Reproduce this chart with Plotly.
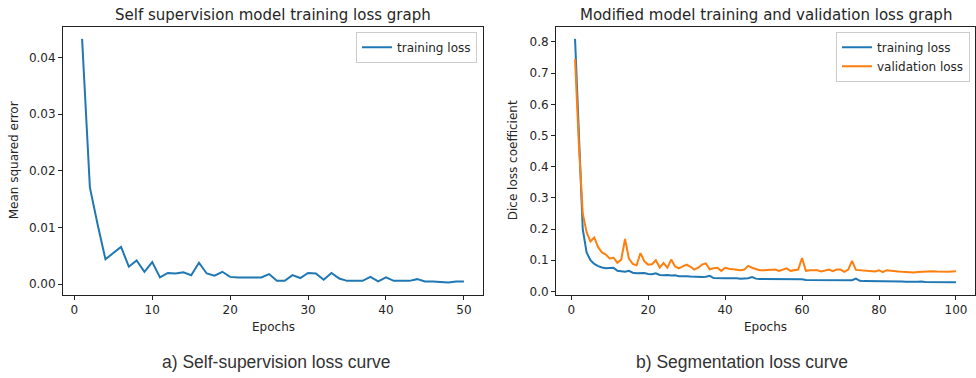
import plotly.graph_objects as go

# ---------------- data ----------------
ss_epochs = list(range(1, 51))
ss_train_loss = [
    0.0433, 0.0171, 0.0105, 0.0044, 0.0055, 0.0066, 0.0031, 0.0042, 0.0022, 0.0039,
    0.0012, 0.0020, 0.0019, 0.0021, 0.0016, 0.0038, 0.0019, 0.0015, 0.0022, 0.0013,
    0.0012, 0.0012, 0.0012, 0.0012, 0.0018, 0.0006, 0.0006, 0.0016, 0.0011, 0.0020,
    0.0019, 0.0008, 0.0020, 0.0010, 0.0006, 0.0006, 0.0006, 0.0013, 0.0005, 0.0012,
    0.0006, 0.0006, 0.0006, 0.0009, 0.0005, 0.0005, 0.0004, 0.0003, 0.0005, 0.0005,
]

seg_epochs = list(range(1, 101))
seg_train_loss = [
    0.810, 0.480, 0.200, 0.125, 0.100, 0.088, 0.081, 0.077, 0.074, 0.075,
    0.076, 0.066, 0.064, 0.063, 0.066, 0.060, 0.058, 0.058, 0.059, 0.056,
    0.055, 0.058, 0.053, 0.052, 0.053, 0.051, 0.052, 0.049, 0.050, 0.049,
    0.048, 0.047, 0.046, 0.046, 0.047, 0.050, 0.043, 0.042, 0.042, 0.042,
    0.042, 0.043, 0.042, 0.041, 0.041, 0.042, 0.046, 0.041, 0.040, 0.040,
    0.039, 0.040, 0.039, 0.039, 0.040, 0.038, 0.038, 0.038, 0.038, 0.039,
    0.037, 0.037, 0.036, 0.037, 0.036, 0.036, 0.036, 0.035, 0.035, 0.035,
    0.035, 0.035, 0.036, 0.041, 0.034, 0.033, 0.033, 0.033, 0.033, 0.034,
    0.033, 0.032, 0.033, 0.032, 0.032, 0.032, 0.031, 0.032, 0.031, 0.031,
    0.032, 0.030, 0.030, 0.030, 0.030, 0.030, 0.030, 0.029, 0.029, 0.029,
]
seg_val_loss = [
    0.745, 0.470, 0.250, 0.190, 0.160, 0.173, 0.142, 0.125, 0.118, 0.106,
    0.108, 0.092, 0.102, 0.168, 0.105, 0.088, 0.084, 0.123, 0.097, 0.086,
    0.087, 0.100, 0.077, 0.091, 0.076, 0.102, 0.080, 0.074, 0.080, 0.086,
    0.079, 0.070, 0.076, 0.086, 0.090, 0.071, 0.074, 0.076, 0.066, 0.076,
    0.073, 0.072, 0.071, 0.068, 0.070, 0.082, 0.076, 0.071, 0.068, 0.068,
    0.069, 0.068, 0.070, 0.066, 0.070, 0.074, 0.066, 0.069, 0.070, 0.107,
    0.066, 0.068, 0.067, 0.068, 0.064, 0.066, 0.070, 0.065, 0.070, 0.070,
    0.063, 0.070, 0.098, 0.069, 0.068, 0.066, 0.066, 0.065, 0.064, 0.068,
    0.062, 0.068, 0.066, 0.065, 0.064, 0.063, 0.062, 0.061, 0.061, 0.062,
    0.063, 0.064, 0.066, 0.065, 0.064, 0.063, 0.063, 0.063, 0.064, 0.065,
]

left_xticks = [0, 10, 20, 30, 40, 50]
left_yticks = [0.00, 0.01, 0.02, 0.03, 0.04]
right_xticks = [0, 20, 40, 60, 80, 100]
right_yticks = [0.0, 0.1, 0.2, 0.3, 0.4, 0.5, 0.6, 0.7, 0.8]

# ---------------- figure ----------------
W, H = 976, 378
BLUE = "#1f77b4"
ORANGE = "#ff7f0e"
FONT = "DejaVu Sans"
TXT = "#262626"

def px(x):
    return x / W

def py(y):
    return 1 - y / H

fig = go.Figure()
fig.add_trace(go.Scatter(x=ss_epochs, y=ss_train_loss, mode="lines", name="training loss",
                         line=dict(color=BLUE, width=2), xaxis="x", yaxis="y", legend="legend"))
fig.add_trace(go.Scatter(x=seg_epochs, y=seg_train_loss, mode="lines", name="training loss",
                         line=dict(color=BLUE, width=2), xaxis="x2", yaxis="y2", legend="legend2"))
fig.add_trace(go.Scatter(x=seg_epochs, y=seg_val_loss, mode="lines", name="validation loss",
                         line=dict(color=ORANGE, width=2), xaxis="x2", yaxis="y2", legend="legend2"))

axis_common = dict(showgrid=False, zeroline=False, showline=True, mirror=True,
                   linecolor="#222222", linewidth=1, ticks="outside", ticklen=4,
                   tickwidth=1, tickcolor="#222222",
                   tickfont=dict(family=FONT, size=12, color=TXT))

legend_common = dict(xanchor="right", yanchor="top",
                     bgcolor="rgba(255,255,255,0.8)", bordercolor="#cccccc", borderwidth=1,
                     font=dict(family=FONT, size=12, color=TXT),
                     itemwidth=30, tracegroupgap=0)

fig.update_layout(
    width=W, height=H,
    margin=dict(l=0, r=0, t=0, b=0),
    paper_bgcolor="white", plot_bgcolor="white",
    font=dict(family=FONT, size=12, color=TXT),
    xaxis=dict(domain=[px(63), px(483)], range=[-1.45, 52.45], anchor="y",
               tickvals=left_xticks, **axis_common),
    yaxis=dict(domain=[py(298), py(27)], range=[-0.00187, 0.04545], anchor="x",
               tickvals=left_yticks, tickformat=".2f", **axis_common),
    xaxis2=dict(domain=[px(556), px(975)], range=[-3.95, 104.95], anchor="y2",
                tickvals=right_xticks, **axis_common),
    yaxis2=dict(domain=[py(298), py(27)], range=[-0.011, 0.849], anchor="x2",
                tickvals=right_yticks, tickformat=".1f", **axis_common),
    legend=dict(x=px(477), y=py(32), **legend_common),
    legend2=dict(x=px(970), y=py(32), **legend_common),
    showlegend=True,
)

annotations = [
    dict(text="Self supervision model training loss graph", x=px(273), y=py(15),
         font=dict(family=FONT, size=15, color=TXT)),
    dict(text="Modified model training and validation loss graph", x=px(765.5), y=py(15),
         font=dict(family=FONT, size=15, color=TXT)),
    dict(text="Epochs", x=px(273), y=py(331), font=dict(family=FONT, size=12, color=TXT)),
    dict(text="Epochs", x=px(765.5), y=py(331), font=dict(family=FONT, size=12, color=TXT)),
    dict(text="Mean squared error", x=px(14), y=py(162), textangle=-90,
         font=dict(family=FONT, size=12, color=TXT)),
    dict(text="Dice loss coefficient", x=px(513), y=py(162), textangle=-90,
         font=dict(family=FONT, size=12, color=TXT)),
    dict(text="a) Self-supervision loss curve", x=px(276), y=py(366),
         font=dict(family="Liberation Sans", size=17.5, color="#333333")),
    dict(text="b) Segmentation loss curve", x=px(742), y=py(366),
         font=dict(family="Liberation Sans", size=17.5, color="#333333")),
]
for a in annotations:
    a.update(xref="paper", yref="paper", showarrow=False, xanchor="center", yanchor="middle")
    fig.add_annotation(**a)

fig.write_html("out.html",
               config={"displayModeBar": False},
               post_script="document.body.style.margin='0';document.body.style.overflow='hidden';")
